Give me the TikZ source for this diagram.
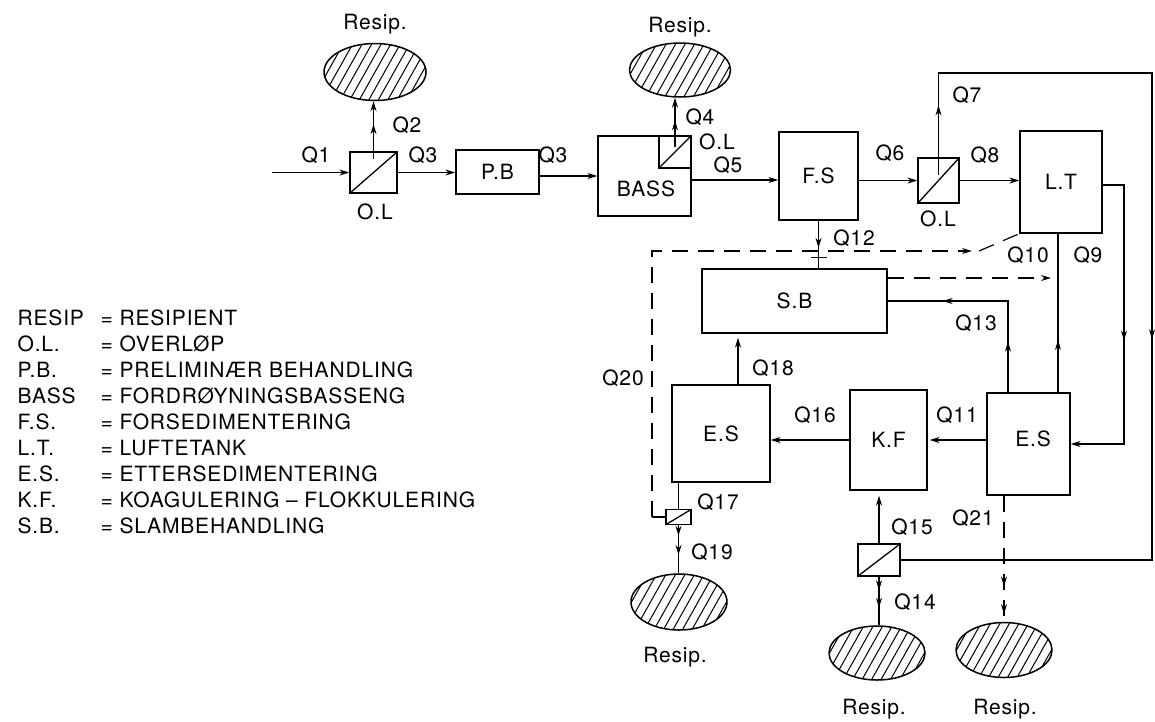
\documentclass[tikz,border=0pt]{standalone}
\usepackage{fontspec}
\setmainfont{TeX Gyre Heros}[LetterSpace=4]
\usetikzlibrary{shapes.geometric,arrows.meta,decorations.markings,calc}
\begin{document}
\begin{tikzpicture}[x=1pt,y=-1pt,
  every node/.style={font=\fontsize{21}{25}\selectfont},
  >={Stealth[length=10pt,width=6pt]},
  line width=1.2pt,
  box/.style={draw,rectangle,inner sep=0,line width=1.3pt,text height=15pt,text depth=0pt},
  olbox/.style={box,path picture={\draw[line width=1.3pt] (path picture bounding box.south west) -- (path picture bounding box.north east);}},
  resip/.style={draw,ellipse,inner sep=0,line width=1.5pt,
    path picture={\foreach \k in {-8,...,8}
      \draw[line width=1pt] ([xshift=\k*9.5pt-18pt,yshift=-32pt]path picture bounding box.center) -- ++(36pt,64pt);}},
  lab/.style={inner sep=0,text height=15pt,text depth=0pt},
  dsh/.style={dash pattern=on 16pt off 10pt},
  midarr/.style={postaction={decorate,decoration={markings,mark=at position #1 with {\arrow{>}}}}},
]
\useasboundingbox (0,0) rectangle (1155,721);

% ---- boxes ----
\node[olbox,minimum width=47pt,minimum height=41pt] (ol1) at (373.5,172.5) {};
\node[box,minimum width=83pt,minimum height=44pt] (pb) at (497.5,172) {P.B};
\node[box,minimum width=93pt,minimum height=80pt] (bass) at (644.5,176) {};
\node[lab] (basst) at (646,189) {BASS};
\node[olbox,minimum width=32pt,minimum height=32pt] (ol2) at (675,152) {};
\node[box,minimum width=79pt,minimum height=88pt] (fs) at (818.5,176) {F.S};
\node[olbox,minimum width=41pt,minimum height=45pt] (ol3) at (938.5,180.5) {};
\node[box,minimum width=82pt,minimum height=102pt] (lt) at (1061,182) {L.T};
\node[box,minimum width=185pt,minimum height=64pt] (sb) at (794.5,301) {S.B};
\node[box,minimum width=83pt,minimum height=102pt] (esr) at (1028.5,444) {};
\node[lab] (esrt) at (1033,439) {E.S};
\node[box,minimum width=77pt,minimum height=100pt] (kf) at (888.5,440) {K.F};
\node[box,minimum width=98pt,minimum height=97pt] (esl) at (721,433.5) {E.S};
\node[olbox,minimum width=25pt,minimum height=14pt] (valve) at (678.5,517) {};
\node[olbox,minimum width=42pt,minimum height=32pt] (ol5) at (879,560) {};

% ---- recipients ----
\node[resip,minimum width=102pt,minimum height=57pt] (r1) at (375,72) {};
\node[resip,minimum width=101pt,minimum height=54pt] (r2) at (680,70) {};
\node[resip,minimum width=96pt,minimum height=56pt] (r4) at (679,602) {};
\node[resip,minimum width=96pt,minimum height=54pt] (r5) at (877,653) {};
\node[resip,minimum width=96pt,minimum height=55pt] (r6) at (1004,650) {};

\node[lab] (tr1) at (375,22) {Resip.};
\node[lab] (tr2) at (680,25) {Resip.};
\node[lab] (tr4) at (675,655) {Resip.};
\node[lab] (tr5) at (874,707) {Resip.};
\node[lab] (tr6) at (1005,707) {Resip.};

% ---- labels ----
\node[lab] (lq1) at (316,155) {Q1};
\node[lab] (lq2) at (407,125) {Q2};
\node[lab] (lq3) at (423,155) {Q3};
\node[lab] (lol1) at (375,212) {O.L};
\node[lab] (lq3b) at (553,155) {Q3};
\node[lab] (lq4) at (700,117) {Q4};
\node[lab] (lol2) at (717,142) {O.L};
\node[lab] (lq5) at (728,165) {Q5};
\node[lab] (lq6) at (890,153) {Q6};
\node[lab] (lq7) at (967,95) {Q7};
\node[lab] (lq8) at (985,155) {Q8};
\node[lab] (lol3) at (938,219) {O.L};
\node[lab] (lq10) at (1028,255) {Q10};
\node[lab] (lq9) at (1088,255) {Q9};
\node[lab] (lq12) at (854,238) {Q12};
\node[lab] (lq13) at (976,323) {Q13};
\node[lab] (lq11) at (957,415) {Q11};
\node[lab] (lq16) at (815,415) {Q16};
\node[lab] (lq18) at (773,368) {Q18};
\node[lab] (lq20) at (623,378) {Q20};
\node[lab] (lq17) at (718,502) {Q17};
\node[lab] (lq19) at (712,552) {Q19};
\node[lab] (lq15) at (912,527) {Q15};
\node[lab] (lq14) at (915,602) {Q14};
\node[lab] (lq21) at (973,518) {Q21};

% ---- legend ----
\foreach \a/\b [count=\i] in {RESIP/= RESIPIENT, O.L./= OVERLØP, P.B./= PRELIMINÆR BEHANDLING,
  BASS/= FORDRØYNINGSBASSENG, F.S./= FORSEDIMENTERING, L.T./= LUFTETANK,
  E.S./= ETTERSEDIMENTERING, K.F./= KOAGULERING – FLOKKULERING, S.B./= SLAMBEHANDLING} {
  \node[lab,anchor=west] (la\i) at (17,{318+26*(\i-1)}) {\a};
  \node[lab,anchor=west] (lb\i) at (100,{318+26*(\i-1)}) {\b};
}

% ---- connectors ----
\coordinate (in1) at (272,172.5);
\draw[->] (in1) -- (ol1.west);
\draw[->,midarr=0.6] ([yshift=14pt]ol1.center) -- (ol1.center |- r1.south);
\draw[->] (ol1.east) -- (ol1.east -| pb.west);
\draw[->] (pb.east |- bass.west) -- (bass.west);
\draw[->,midarr=0.54] ([yshift=5pt]ol2.center) -- (ol2.center |- r2.south);
\draw[->] ([yshift=-4pt]bass.east) -- ([yshift=-4pt]fs.west);
\draw[->] (fs.east |- ol3.west) -- (ol3.west);
\draw[->] (ol3.east) -- (ol3.east -| lt.west);

% Q7 bypass
\coordinate (q7a) at (938.5,73);
\coordinate (q7b) at (1152,73);
\draw[midarr=0.066,midarr=0.552] ([yshift=5.5pt]ol3.center) -- (q7a) -- (q7b) -- (q7b |- ol5.east) -- (ol5.east);

% L.T -> E.S
\coordinate (lte) at (1124,185);
\draw[->,midarr=0.53] ([yshift=-3pt]lt.east) -- (lte) -- (lte |- esr.east) -- (esr.east);

% Q9
\coordinate (q9x) at (1058,0);
\draw[midarr=0.33] (esr.north -| q9x) -- (lt.south -| q9x);

% Q13
\coordinate (q13c) at (1008,301);
\draw[midarr=0.24,midarr=0.74] (esr.north -| q13c) -- (q13c) -- (sb.east);

% Q12
\draw[midarr=0.57] (fs.south) -- (fs.south |- sb.north);
\draw ($(fs.south)+(-8,37)$) -- ++(16,0);

% dashed S.B -> Q9
\coordinate (d1) at (1051,278);
\draw[dsh,->] (sb.east |- d1) -- (d1);

% Q20 / Q10 dashed return
\coordinate (q20a) at (652,517);
\coordinate (q20b) at (972,251);
\coordinate (q10s) at (979,251);
\draw[dsh,->] (q20a) |- (q20b);
\draw[dsh] (q10s) -- (lt.south west);
\draw (q20a) -- (valve.west);

% Q11, Q16, Q18
\draw[->,shorten >=2pt] (esr.west |- kf.east) -- (kf.east);
\draw[->] (kf.west) -- (kf.west -| esl.east);
\coordinate (q18x) at (738,0);
\draw[->,shorten >=4pt] (esl.north -| q18x) -- (sb.south -| q18x);

% Q17, Q19
\draw (valve.north |- esl.south) -- (valve.north);
\draw[midarr=0.22,midarr=0.62] (valve.south) -- (valve.south |- r4.north);

% Q15, Q14
\draw[->,shorten >=5pt] (ol5.north) -- (ol5.north |- kf.south);
\draw[midarr=0.28,midarr=0.64] (ol5.south) -- (ol5.south |- r5.north);

% Q21
\draw[dsh,midarr=0.72,midarr=0.94] (esr.south -| r6.north) -- (r6.north);
\end{tikzpicture}
\end{document}
